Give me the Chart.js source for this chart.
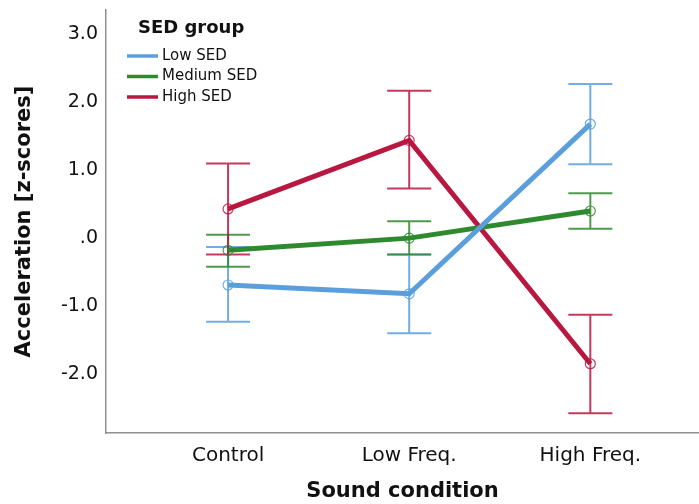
<!DOCTYPE html>
<html lang="en">
<head>
    <meta charset="UTF-8">
    <title>Acceleration by sound condition and SED group</title>
    <style>
        body { margin: 0; padding: 0; background: #fff; }
        #wrap { width: 699px; height: 504px; }
    </style>
</head>
<body>
    <div id="wrap"><canvas id="chart" width="699" height="504"></canvas></div>

    <script src="https://cdn.jsdelivr.net/npm/chart.js"></script>
    <script>
        // categories on the x axis
        const categories = ['Control', 'Low Freq.', 'High Freq.'];
        const groupLabels = ['Low SED', 'Medium SED', 'High SED'];

        // means and error bar ends (z-scores)
        const lowMean = [-0.69, -0.82, 1.68];
        const lowLower = [-1.23, -1.40, 1.09];
        const lowUpper = [-0.13, -0.24, 2.27];

        const medMean = [-0.18, 0.00, 0.40];
        const medLower = [-0.42, -0.24, 0.14];
        const medUpper = [0.05, 0.25, 0.66];

        const highMean = [0.43, 1.44, -1.85];
        const highLower = [-0.24, 0.73, -2.58];
        const highUpper = [1.10, 2.17, -1.13];

        const yTicks = [-2, -1, 0, 1, 2, 3];

        const colors = ['#5a9fdc', '#2f8a2f', '#b8173f'];
        const barColors = ['rgba(90,159,220,0.85)', 'rgba(47,138,47,0.85)', 'rgba(184,23,63,0.85)'];
        const FONT = "'DejaVu Sans', sans-serif";

        const means = [lowMean, medMean, highMean];
        const lowers = [lowLower, medLower, highLower];
        const uppers = [lowUpper, medUpper, highUpper];

        const datasets = means.map((m, i) => ({
            label: groupLabels[i],
            data: m.map((v, j) => ({ x: j, y: v })),
            borderColor: colors[i],
            borderWidth: 5,
            pointRadius: 5,
            pointHoverRadius: 5,
            pointBorderWidth: 1.2,
            pointBorderColor: barColors[i],
            pointBackgroundColor: 'rgba(255,255,255,0)',
            tension: 0,
            fill: false
        }));

        // error bars, drawn under the lines
        const errorBars = {
            id: 'errorBars',
            beforeDatasetsDraw(chart) {
                const ctx = chart.ctx;
                const xs = chart.scales.x, ys = chart.scales.y;
                const cap = 22;
                ctx.save();
                ctx.lineWidth = 2;
                lowers.forEach((lo, i) => {
                    ctx.strokeStyle = barColors[i];
                    lo.forEach((l, j) => {
                        const px = xs.getPixelForValue(j);
                        const y1 = ys.getPixelForValue(l);
                        const y2 = ys.getPixelForValue(uppers[i][j]);
                        ctx.beginPath();
                        ctx.moveTo(px, y1); ctx.lineTo(px, y2);
                        ctx.moveTo(px - cap, y1); ctx.lineTo(px + cap, y1);
                        ctx.moveTo(px - cap, y2); ctx.lineTo(px + cap, y2);
                        ctx.stroke();
                    });
                });
                ctx.restore();
            }
        };

        // legend block inside the plot, top left
        const groupLegend = {
            id: 'groupLegend',
            afterDraw(chart) {
                const ctx = chart.ctx;
                ctx.save();
                ctx.fillStyle = '#111';
                ctx.textBaseline = 'middle';
                ctx.textAlign = 'left';
                ctx.font = "bold 18px " + FONT;
                ctx.fillText('SED group', 138, 28);
                ctx.font = "15px " + FONT;
                groupLabels.forEach((lab, i) => {
                    const y = 56 + i * 20.5;
                    ctx.strokeStyle = colors[i];
                    ctx.lineWidth = 3.5;
                    ctx.beginPath();
                    ctx.moveTo(127, y); ctx.lineTo(158, y);
                    ctx.stroke();
                    ctx.fillStyle = '#111';
                    ctx.fillText(lab, 162, y);
                });
                ctx.restore();
            }
        };

        new Chart(document.getElementById('chart'), {
            type: 'line',
            data: { datasets: datasets },
            options: {
                responsive: false,
                animation: false,
                layout: { autoPadding: false, padding: { top: 10, right: 0, left: 0, bottom: 0 } },
                plugins: { legend: { display: false }, tooltip: { enabled: false } },
                scales: {
                    x: {
                        type: 'linear',
                        min: -0.674,
                        max: 2.6,
                        grid: { display: false, drawTicks: false },
                        border: { color: '#8f8f8f', width: 1.5 },
                        afterBuildTicks: s => { s.ticks = categories.map((c, j) => ({ value: j })); },
                        afterFit: s => { s.height = 71; s.paddingLeft = 0; s.paddingRight = 0; },
                        ticks: {
                            padding: 11,
                            color: '#111',
                            font: { family: FONT, size: 20 },
                            maxRotation: 0,
                            callback: v => categories[v]
                        },
                        title: {
                            display: true,
                            text: 'Sound condition',
                            color: '#111',
                            font: { family: FONT, size: 21, weight: 'bold' },
                            padding: { top: 0, bottom: 0 }
                        }
                    },
                    y: {
                        min: -2.87,
                        max: 3.36,
                        grid: { display: false, drawTicks: false },
                        border: { color: '#8f8f8f', width: 1.5 },
                        afterBuildTicks: s => { s.ticks = yTicks.map(v => ({ value: v })); },
                        afterFit: s => { s.width = 106; s.paddingTop = 0; s.paddingBottom = 0; },
                        ticks: {
                            padding: 8,
                            color: '#111',
                            font: { family: FONT, size: 19 },
                            callback: v => v === 0 ? '.0' : v.toFixed(1)
                        },
                        title: {
                            display: true,
                            text: 'Acceleration [z-scores]',
                            color: '#111',
                            font: { family: FONT, size: 21, weight: 'bold' },
                            padding: { top: 12, bottom: 0 }
                        }
                    }
                }
            },
            plugins: [errorBars, groupLegend]
        });
    </script>
</body>
</html>
